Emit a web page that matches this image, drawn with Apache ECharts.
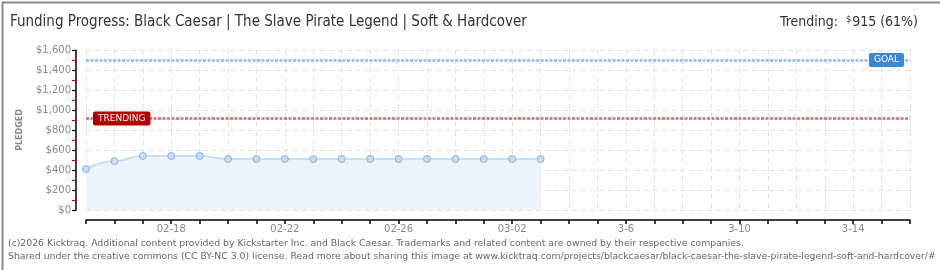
<!DOCTYPE html>
<html>
<head>
<meta charset="utf-8">
<script src="https://cdn.jsdelivr.net/npm/echarts@6/dist/echarts.min.js"></script>
<style>
html,body{margin:0;padding:0;background:#fff;}
#c{width:940px;height:270px;}
</style>
</head>
<body>
<div id="c"></div>
<script>
const dates = ['02-15','02-16','02-17','02-18','02-19','02-20','02-21','02-22','02-23','02-24','02-25','02-26','02-27','02-28',
  '03-01','03-02','03-03','03-04','03-05','03-06','03-07','03-08','03-09','03-10','03-11','03-12','03-13','03-14','03-15','03-16'];
const tickLabels = {'02-18':'02-18','02-22':'02-22','02-26':'02-26','03-02':'03-02','03-06':'3-6','03-10':'3-10','03-14':'3-14'};
const pledged = [410, 490, 540, 540, 540, 510, 510, 510, 510, 510, 510, 510, 510, 510, 510, 510, 510];
const goal = 1500;
const trending = 915;
const titleText = 'Funding Progress: Black Caesar | The Slave Pirate Legend | Soft & Hardcover';
const footer1 = '(c)2026 Kicktraq. Additional content provided by Kickstarter Inc. and Black Caesar. Trademarks and related content are owned by their respective companies.';
const footer2 = 'Shared under the creative commons (CC BY-NC 3.0) license. Read more about sharing this image at www.kicktraq.com/projects/blackcaesar/black-caesar-the-slave-pirate-legend-soft-and-hardcover/#';

const chart = echarts.init(document.getElementById('c'), null, {renderer:'canvas'});
const gray = '#888';
const tFont = 'DejaVu Sans Condensed';
chart.setOption({
  animation: false,
  grid: {left: 86, right: 30, top: 50, bottom: 60},
  title: [
    {text: titleText, left: 5, top: 10, textStyle: {fontFamily: tFont, fontSize: 15, fontWeight: 'normal', color: '#333'}},
    {text: '{a|Trending:  }{s|$}{a|915 (61%)}', right: 17, top: 10, textStyle: {fontWeight: 'normal', rich: {
      a: {fontFamily: tFont, fontSize: 14, fontWeight: 'normal', color: '#333'},
      s: {fontFamily: tFont, fontSize: 9, fontWeight: 'normal', color: '#333', verticalAlign: 'top', padding: [0,1,6,0]}
    }}}
  ],
  xAxis: {
    type: 'category', data: dates, boundaryGap: false, offset: 10,
    axisLine: {show: true, onZero: false, lineStyle: {color: '#000', width: 1.5}},
    axisTick: {show: true, interval: 0, length: 4, lineStyle: {color: '#000', width: 1.5}},
    axisLabel: {interval: 0, color: gray, fontFamily: 'DejaVu Sans', fontSize: 10, margin: 4,
      formatter: v => tickLabels[v] || ''},
    splitLine: {show: true, interval: 0, lineStyle: {color: '#e2e2e2', type: [5,4], width: 1}}
  },
  yAxis: {
    type: 'value', min: 0, max: 1600, interval: 200, offset: 10,
    name: 'PLEDGED', nameLocation: 'middle', nameGap: 52, nameRotate: 90,
    nameTextStyle: {color: gray, fontFamily: 'DejaVu Sans', fontSize: 8, fontWeight: 'bold'},
    axisLine: {show: true, onZero: false, lineStyle: {color: '#000', width: 1.5}},
    axisTick: {show: true, length: 4, lineStyle: {color: '#000', width: 1.2}},
    minorTick: {show: true, splitNumber: 2, length: 4, lineStyle: {color: '#e00000', width: 1.2}},
    axisLabel: {color: gray, fontFamily: 'DejaVu Sans', fontSize: 10, margin: 5,
      formatter: v => '$' + v.toLocaleString('en-US')},
    splitLine: {show: true, lineStyle: {color: '#e2e2e2', type: [5,4], width: 1}}
  },
  series: [{
    type: 'line', data: pledged, smooth: 0.5, smoothMonotone: 'x',
    symbol: 'circle', symbolSize: 7,
    lineStyle: {color: '#bcd6f0', width: 1.5},
    itemStyle: {color: '#c4ddf7', borderColor: '#8eb0d6', borderWidth: 1},
    areaStyle: {color: '#ebf3fc', opacity: 1},
    z: 3,
    markLine: {
      silent: true, symbol: 'none', animation: false,
      data: [
        {yAxis: goal, lineStyle: {color: '#8db6e3', type: [3,1.5], width: 2.5},
          label: {show: true, formatter: 'GOAL', position: 'insideEnd', distance: 6,
            color: '#fff', backgroundColor: '#3b87d7', borderRadius: 2, padding: [3,5,2,5],
            fontFamily: 'DejaVu Sans', fontSize: 9}},
        {yAxis: trending, lineStyle: {color: '#d26b6b', type: [3,1.5], width: 2.5},
          label: {show: true, formatter: 'TRENDING', position: 'insideStart', distance: 7,
            color: '#fff', backgroundColor: '#b50000', borderRadius: 2, padding: [3,5,2,5],
            fontFamily: 'DejaVu Sans', fontSize: 9}}
      ]
    }
  }],
  graphic: [
    {type: 'text', left: 8, top: 239, style: {text: footer1, fill: '#666', font: '9.3px DejaVu Sans, sans-serif'}},
    {type: 'text', left: 8, top: 252, style: {text: footer2, fill: '#666', font: '9.3px DejaVu Sans, sans-serif'}},
    {type: 'rect', left: 0, top: 0, shape: {x: 0, y: 0, width: 939, height: 269}, style: {fill: 'none', stroke: '#888', lineWidth: 2}, silent: true, z: 100}
  ]
});
</script>
</body>
</html>
